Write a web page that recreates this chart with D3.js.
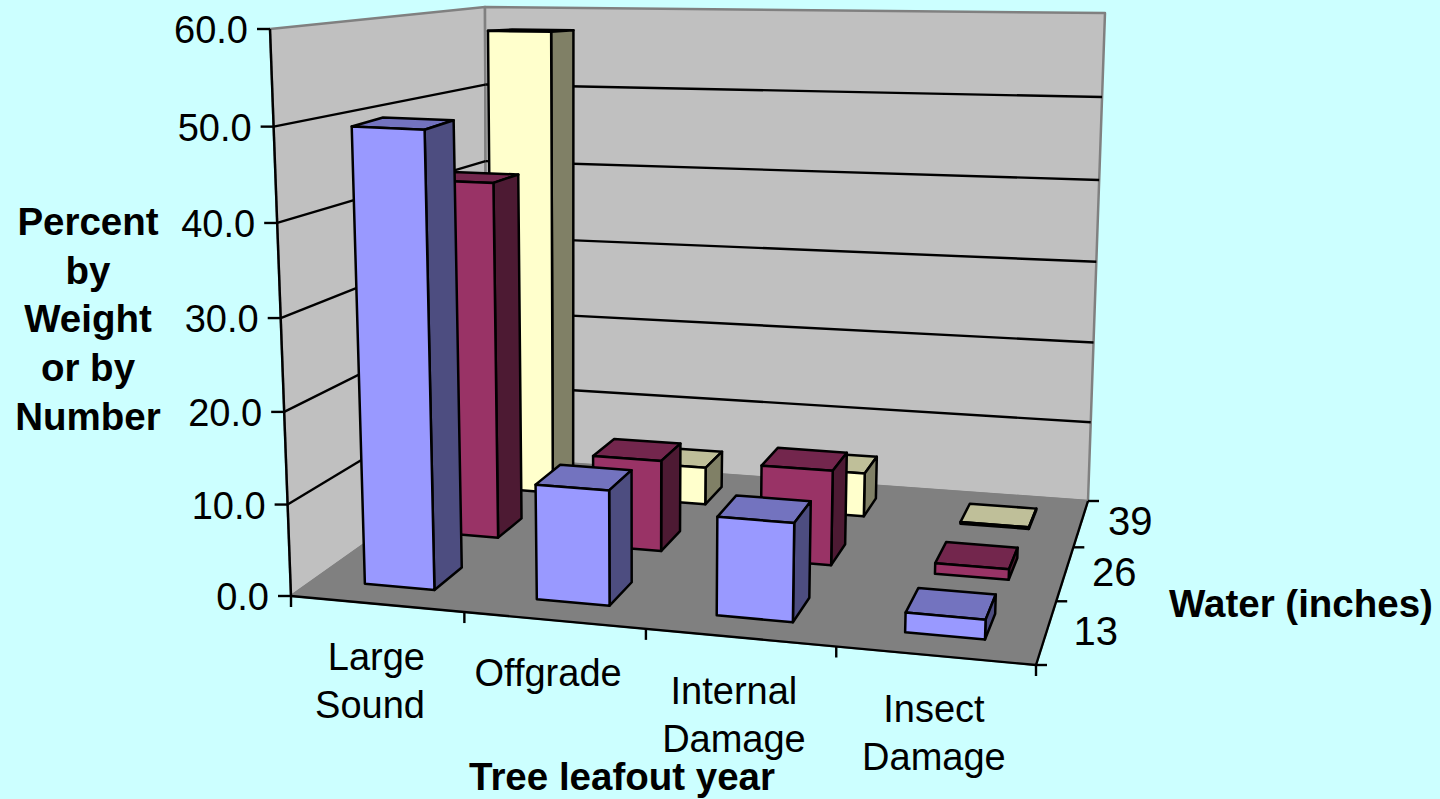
<!DOCTYPE html>
<html><head><meta charset="utf-8">
<script src="https://cdn.jsdelivr.net/npm/d3@7/dist/d3.min.js"></script>
<style>html,body{margin:0;padding:0;background:#CCFFFF}svg{display:block}text{font-family:"Liberation Sans",Arial,sans-serif;fill:#000}</style>
</head><body><svg id="c" width="1440" height="799"></svg>
<script>
// ---- data ----
const categories = [["Large","Sound"],["Offgrade"],["Internal","Damage"],["Insect","Damage"]];
const depthSeries = ["13","26","39"];
const values13 = [49.5, 12.5, 10.6, 2.1];
const values26 = [41.2, 10.5, 10.8, 1.2];
const values39 = [57.2, 4.6, 5.3, 0.2];
const yTicks = [0,10,20,30,40,50,60];
const yTitle = ["Percent","by","Weight","or by","Number"];
const xTitle = "Tree leafout year";
const zTitle = "Water (inches)";
const fills = [["#9999FF","#7373BF","#4D4D80"],["#993366","#73264D","#4D1A33"],["#FFFFCC","#BFBF99","#808066"]];

// ---- projection frame ----
const floorQuad = [[291,596],[1036,665],[1088,501],[486.5,457.5]];
const liftQuad = [[-21,-567],[21,-603],[17,-488],[-1.5,-450.5]];
function homography(q){
  const [[x0,y0],[x1,y1],[x2,y2],[x3,y3]] = q;
  const dx1=x1-x2,dx2=x3-x2,sx=x0-x1+x2-x3,dy1=y1-y2,dy2=y3-y2,sy=y0-y1+y2-y3;
  const den=dx1*dy2-dx2*dy1;
  const g=(sx*dy2-dx2*sy)/den,h=(dx1*sy-sx*dy1)/den;
  const a=x1-x0+g*x1,b=x3-x0+h*x3,c=x0,d=y1-y0+g*y1,e=y3-y0+h*y3,f=y0;
  return (u,v)=>{const w=g*u+h*v+1;return [(a*u+b*v+c)/w,(d*u+e*v+f)/w];};
}
const floorH=homography(floorQuad);
const lift=(u,v)=>[0,1].map(k=>liftQuad[0][k]*(1-u)*(1-v)+liftQuad[1][k]*u*(1-v)+liftQuad[2][k]*u*v+liftQuad[3][k]*(1-u)*v);
const uScale=d3.scaleLinear().domain([0,categories.length]).range([0,1]);
const vScale=d3.scaleLinear().domain([0,depthSeries.length]).range([0,1]);
const wScale=d3.scaleLinear().domain([0,60]).range([0,1]);
const K=1.04;
function P(c,r,val){
  const u=uScale(c),v=vScale(r),t0=wScale(val),t=t0/(K-(K-1)*t0);
  const a=floorH(u,v),b=lift(u,v);
  return [a[0]+b[0]*t,a[1]+b[1]*t];
}
const svg=d3.select("#c");
const line=d3.line();
const poly=(pts,fill,stroke,sw)=>svg.append("path").attr("d",line(pts)+"Z").attr("fill",fill).attr("stroke",stroke).attr("stroke-width",sw).attr("stroke-linejoin","round");
const seg=(a,b,stroke,sw)=>svg.append("path").attr("d",line([a,b])).attr("stroke",stroke).attr("stroke-width",sw).attr("fill","none");
const n=categories.length,m=depthSeries.length;

// walls and floor
poly([P(0,0,0),P(0,0,60),P(0,m,60),P(0,m,0)],"#C0C0C0","#808080",2.5);
poly([P(0,m,0),P(0,m,60),P(n,m,60),P(n,m,0)],"#C0C0C0","#808080",2.5);
poly([P(0,0,0),P(n,0,0),P(n,m,0),P(0,m,0)],"#808080","#808080",2);
// gridlines
yTicks.slice(1,-1).forEach(t=>{
  seg(P(0,0,t),P(0,m,t),"#000",2.4);
  seg(P(0,m,t),P(n,m,t),"#000",2.4);
});
// axes
seg(P(0,0,0),P(0,0,60),"#000",2.4);
seg(P(0,0,0),P(n,0,0),"#000",2.4);
seg(P(n,0,0),P(n,m,0),"#000",2.4);
yTicks.forEach(t=>{const p=P(0,0,t);seg([p[0]-13,p[1]],p,"#000",2.4);});
d3.range(n+1).forEach(i=>{const p=P(i,0,0);seg(p,[p[0],p[1]+11],"#000",2.4);});
d3.range(m+1).forEach(i=>{const p=P(n,i,0);seg(p,[p[0]+11,p[1]],"#000",2.4);});

// bars
const seriesValues=[values13,values26,values39];
const gap=0.3, w=0.41;
for(let r=m-1;r>=0;r--){
  seriesValues[r].forEach((val,c)=>{
    const c0=c+gap,c1=c+gap+w,r0=r+gap,r1=r+gap+w;
    const [fc,tc,sc]=fills[r];
    poly([P(c0,r0,val),P(c1,r0,val),P(c1,r1,val),P(c0,r1,val)],tc,"#000",2.5);
    poly([P(c1,r0,0),P(c1,r1,0),P(c1,r1,val),P(c1,r0,val)],sc,"#000",2.5);
    poly([P(c0,r0,0),P(c1,r0,0),P(c1,r0,val),P(c0,r0,val)],fc,"#000",2.5);
  });
}

// labels
const fs=38, fb=38.5, fd=40;
const catDx=[0,-6,-6,-1];
const depthDy=[13,13,12];
yTicks.forEach(t=>{const p=P(0,0,t);
  svg.append("text").attr("x",p[0]-22).attr("y",p[1]+14).attr("text-anchor","end").attr("font-size",fs).text(t.toFixed(1));});
categories.forEach((lines,i)=>{const p=P(i+0.5,0,0);
  lines.forEach((s,j)=>{
    const t=svg.append("text").attr("y",p[1]+66+j*48).attr("font-size",fs).text(s);
    if(i===0) t.attr("x",425).attr("text-anchor","end");
    else t.attr("x",p[0]+catDx[i]).attr("text-anchor","middle");
  });});
depthSeries.forEach((s,i)=>{const p=P(n,i+0.5,0);
  svg.append("text").attr("x",p[0]+27).attr("y",p[1]+depthDy[i]).attr("font-size",fd).text(s);});
yTitle.forEach((s,i)=>svg.append("text").attr("x",88).attr("y",235+i*48.7).attr("text-anchor","middle").attr("font-size",fb).attr("font-weight","bold").text(s));
svg.append("text").attr("x",622).attr("y",790).attr("text-anchor","middle").attr("font-size",fb).attr("font-weight","bold").text(xTitle);
svg.append("text").attr("x",1301).attr("y",617).attr("text-anchor","middle").attr("font-size",fb).attr("font-weight","bold").text(zTitle);
</script></body></html>
